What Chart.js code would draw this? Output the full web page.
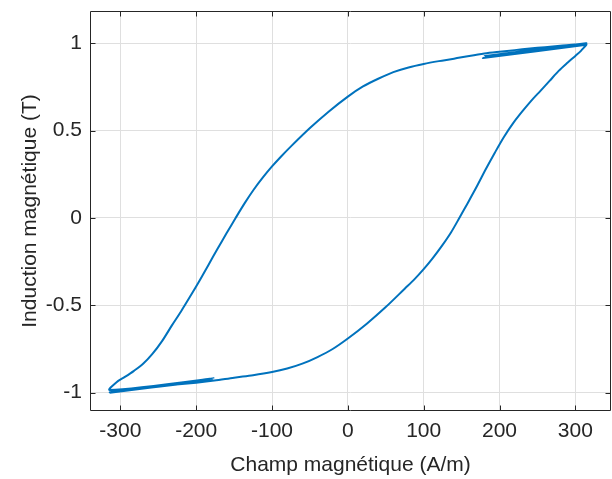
<!DOCTYPE html>
<html>
<head>
<meta charset="utf-8">
<script src="https://cdn.jsdelivr.net/npm/chart.js@4/dist/chart.umd.min.js"></script>
<style>
  html, body { margin: 0; padding: 0; background: #ffffff; }
  #wrap { width: 612px; height: 479px; }
</style>
</head>
<body>
<div id="wrap"><canvas id="c" width="612" height="479"></canvas></div>
<script>
// Field H (A/m), in the order traced around the hysteresis loop
const fieldH = [
  // ascending branch
  -314, -290, -260, -230, -200, -176, -150, -125, -100, -80, -60, -40, -20, 0, 25, 50, 75, 88, 100,
  112, 124, 136, 147, 158, 170, 182, 194, 206, 218, 230, 242, 254, 266, 278, 290, 300, 308, 314,
  // small reversal at the top
  178, 314, 182, 314,
  // descending branch
  300, 280, 260, 240, 220, 200, 180, 160, 140, 120, 100, 80, 60, 40, 20, 0, -25, -50, -75, -88,
  -100, -112, -124, -136, -148, -160, -172, -184, -196, -208, -220, -232, -245, -258, -270,
  -282, -294, -305, -314,
  // small reversal at the bottom
  -177, -314, -181, -314
];
// Induction B (T), matching fieldH point by point
const inductionB = [
  -1.0, -0.982, -0.968, -0.955, -0.943, -0.931, -0.914, -0.9, -0.882, -0.862, -0.834, -0.796, -0.75, -0.69, -0.605, -0.51, -0.405, -0.35, -0.293,
  -0.23, -0.16, -0.083, 0.0, 0.085, 0.18, 0.28, 0.375, 0.465, 0.543, 0.61, 0.672, 0.728, 0.785, 0.842, 0.89, 0.928, 0.96, 0.996,
  0.916, 0.992, 0.928, 1.0,
  0.993, 0.986, 0.978, 0.97, 0.961, 0.952, 0.942, 0.928, 0.912, 0.898, 0.882, 0.862, 0.835, 0.797, 0.753, 0.695, 0.61, 0.515, 0.41, 0.352,
  0.295, 0.232, 0.163, 0.085, 0.0, -0.088, -0.178, -0.27, -0.362, -0.45, -0.535, -0.615, -0.705, -0.78, -0.835,
  -0.875, -0.91, -0.94, -0.985,
  -0.918, -0.998, -0.93, -1.0
];
const xTicks = [-300, -200, -100, 0, 100, 200, 300];
const xTickLabels = ['-300', '-200', '-100', '0', '100', '200', '300'];
const yTicks = [-1, -0.5, 0, 0.5, 1];
const yTickLabels = ['-1', '-0.5', '0', '0.5', '1'];
const xLabel = 'Champ magnétique (A/m)';
const yLabel = 'Induction magnétique (T)';

const FONT = "'Liberation Sans', Arial, Helvetica, sans-serif";
const TXT = '#262626';

const boxPlugin = {
  id: 'matlabBox',
  afterDraw(chart) {
    const { ctx, chartArea: a, scales: { x, y } } = chart;
    ctx.save();
    ctx.strokeStyle = '#262626';
    ctx.lineWidth = 1;
    const L = Math.round(a.left) + 0.5, R = Math.round(a.right) - 0.5;
    const T = Math.round(a.top) + 0.5, B = Math.round(a.bottom) - 0.5;
    ctx.beginPath();
    ctx.rect(L, T, R - L, B - T);
    const len = 5;
    xTicks.forEach(v => {
      const px = Math.round(x.getPixelForValue(v)) + 0.5;
      ctx.moveTo(px, B); ctx.lineTo(px, B - len);
      ctx.moveTo(px, T); ctx.lineTo(px, T + len);
    });
    yTicks.forEach(v => {
      const py = Math.round(y.getPixelForValue(v)) + 0.5;
      ctx.moveTo(L, py); ctx.lineTo(L + len, py);
      ctx.moveTo(R, py); ctx.lineTo(R - len, py);
    });
    ctx.stroke();
    ctx.restore();
  }
};

new Chart(document.getElementById('c'), {
  type: 'scatter',
  data: {
    datasets: [{
      data: fieldH.map((h, i) => ({ x: h, y: inductionB[i] })),
      showLine: true,
      borderColor: '#0072BD',
      backgroundColor: '#0072BD',
      borderWidth: 2,
      pointRadius: 0,
      tension: 0.3,
      fill: false
    }]
  },
  options: {
    responsive: false,
    animation: false,
    devicePixelRatio: 1,
    layout: { padding: { top: 11, right: 1, left: 0, bottom: 0 } },
    plugins: { legend: { display: false }, tooltip: { enabled: false } },
    scales: {
      x: {
        type: 'linear',
        min: -340, max: 347,
        afterBuildTicks: s => { s.ticks = xTicks.map(v => ({ value: v })); },
        afterFit: s => { s.height = 68; s.paddingLeft = 0; s.paddingRight = 0; },
        grid: { color: '#dfdfdf', lineWidth: 1, drawTicks: false },
        border: { display: false },
        ticks: {
          padding: 8, color: TXT, font: { family: FONT, size: 21 }, maxRotation: 0, autoSkip: false,
          callback: v => { const i = xTicks.indexOf(v); return i >= 0 ? xTickLabels[i] : ''; }
        },
        title: { display: true, text: xLabel, color: TXT, font: { family: FONT, size: 21, lineHeight: 1 }, padding: { top: 0, bottom: 3 } }
      },
      y: {
        type: 'linear',
        min: -1.105, max: 1.185,
        afterBuildTicks: s => { s.ticks = yTicks.map(v => ({ value: v })); },
        afterFit: s => { s.width = 90; s.paddingTop = 0; s.paddingBottom = 0; },
        grid: { color: '#dfdfdf', lineWidth: 1, drawTicks: false },
        border: { display: false },
        ticks: {
          padding: 8, color: TXT, font: { family: FONT, size: 21 }, autoSkip: false,
          callback: v => { const i = yTicks.indexOf(v); return i >= 0 ? yTickLabels[i] : ''; }
        },
        title: { display: true, text: yLabel, color: TXT, font: { family: FONT, size: 21, lineHeight: 1 }, padding: { top: 19.5, bottom: 0 } }
      }
    }
  },
  plugins: [boxPlugin]
});
</script>
</body>
</html>
